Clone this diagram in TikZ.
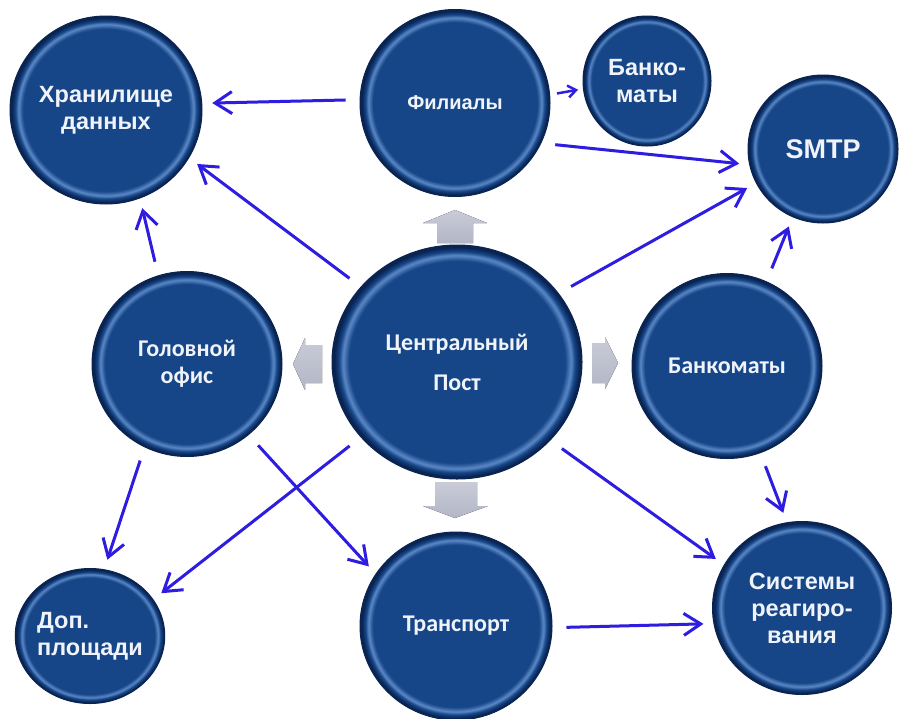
\documentclass[tikz,border=0pt]{standalone}
\usepackage{fontspec}
\setmainfont{Liberation Sans}
\newfontfamily\carlito{Carlito}
\usetikzlibrary{arrows.meta,shapes.geometric}

\definecolor{ballblue}{RGB}{22,70,136}
\definecolor{ballrim}{RGB}{92,136,198}
\definecolor{balledge}{RGB}{10,36,82}
\definecolor{linkblue}{RGB}{46,28,224}
\definecolor{padgray}{RGB}{178,182,198}
\definecolor{labelwhite}{RGB}{240,244,250}

\pgfdeclareradialshading{ball}{\pgfpoint{0bp}{0bp}}{color(0bp)=(ballblue); color(21.6bp)=(ballblue); color(22.8bp)=(ballrim); color(23.6bp)=(ballblue); color(24.5bp)=(balledge); color(25bp)=(balledge); color(50bp)=(balledge)}

\begin{document}
\begin{tikzpicture}
	[x=1pt,y=-1pt,
	ball/.style={ellipse,shade,shading=ball,draw=balledge,line width=1pt,text=labelwhite,align=center,inner sep=0pt,font=\fontsize{23.5}{27}\selectfont\bfseries},
	calib/.style={font=\carlito\fontsize{24}{27}\selectfont\bfseries},
	edge/.style={-{Straight Barb[length=17pt,width=22pt]},line width=3pt,draw=linkblue,shorten <=14pt,shorten >=10pt},
	pad/.style={top color=padgray!70,bottom color=padgray,draw=none}]
	\fill[white] (0,0) rectangle (899,718);
	\useasboundingbox (0,0) rectangle (899,718);

	\node[ball,minimum width=192pt,minimum height=188pt] (store) at (106,110) {Хранилище\\данных};
	\node[ball,minimum width=190pt,minimum height=187pt,font=\fontsize{20}{24}\selectfont\bfseries] (branch) at (455,103) {Филиалы};
	\node[ball,minimum width=128pt,minimum height=130pt] (atms) at (647,81) {Банко-\\маты};
	\node[ball,minimum width=150pt,minimum height=148pt,font=\fontsize{27}{30}\selectfont\bfseries] (smtp) at (823,149) {SMTP};
	\node[ball,calib,minimum width=190pt,minimum height=185pt] (hq) at (187,364) {Головной\\офис};
	\node[ball,calib,minimum width=250pt,minimum height=234pt,font=\carlito\fontsize{24}{40}\selectfont\bfseries] (cp) at (457,362) {Центральный\\Пост};
	\node[ball,calib,minimum width=190pt,minimum height=185pt] (atm) at (727,366) {Банкоматы};
	\node[ball,minimum width=145pt,minimum height=135pt,align=left] (area) at (90,636) {Доп.\\площади};
	\node[ball,calib,minimum width=192pt,minimum height=188pt] (transp) at (456,626) {Транспорт};
	\node[ball,minimum width=179pt,minimum height=173pt] (react) at (802,608) {Системы\\реагиро-\\вания};

	% grey pointers round the centre
	\fill[pad] (437,243) -- (437,223) -- (423,223) -- (455,210) -- (487,223) -- (473,223) -- (473,243) -- cycle;
	\fill[pad] (322,345) -- (305,345) -- (305,338) -- (293,364) -- (305,390) -- (305,383) -- (322,383) -- cycle;
	\fill[pad] (592,343) -- (605,343) -- (605,337) -- (618,363) -- (605,389) -- (605,383) -- (592,383) -- cycle;
	\fill[pad] (435,482) -- (477,482) -- (477,506) -- (488,506) -- (455,518) -- (423,506) -- (435,506) -- cycle;

	\foreach \from/\to in {branch.178/store.4,cp.142/store.-30,hq.108/store.-69,branch.-25/smtp.192,cp.34/smtp.207,atm.65/smtp.246,hq.243/area.78,cp.218/area.30,hq.-49/transp.147,cp.-40/react.151,atm.-69/react.100,transp.-1/react.190}
	\draw[edge] (\from) -- (\to);
	\draw[edge,-{Straight Barb[length=8pt,width=12pt]},line width=2.5pt,shorten <=7pt,shorten >=5pt] (branch.5) -- (atms.187);

\end{tikzpicture}
\end{document}
